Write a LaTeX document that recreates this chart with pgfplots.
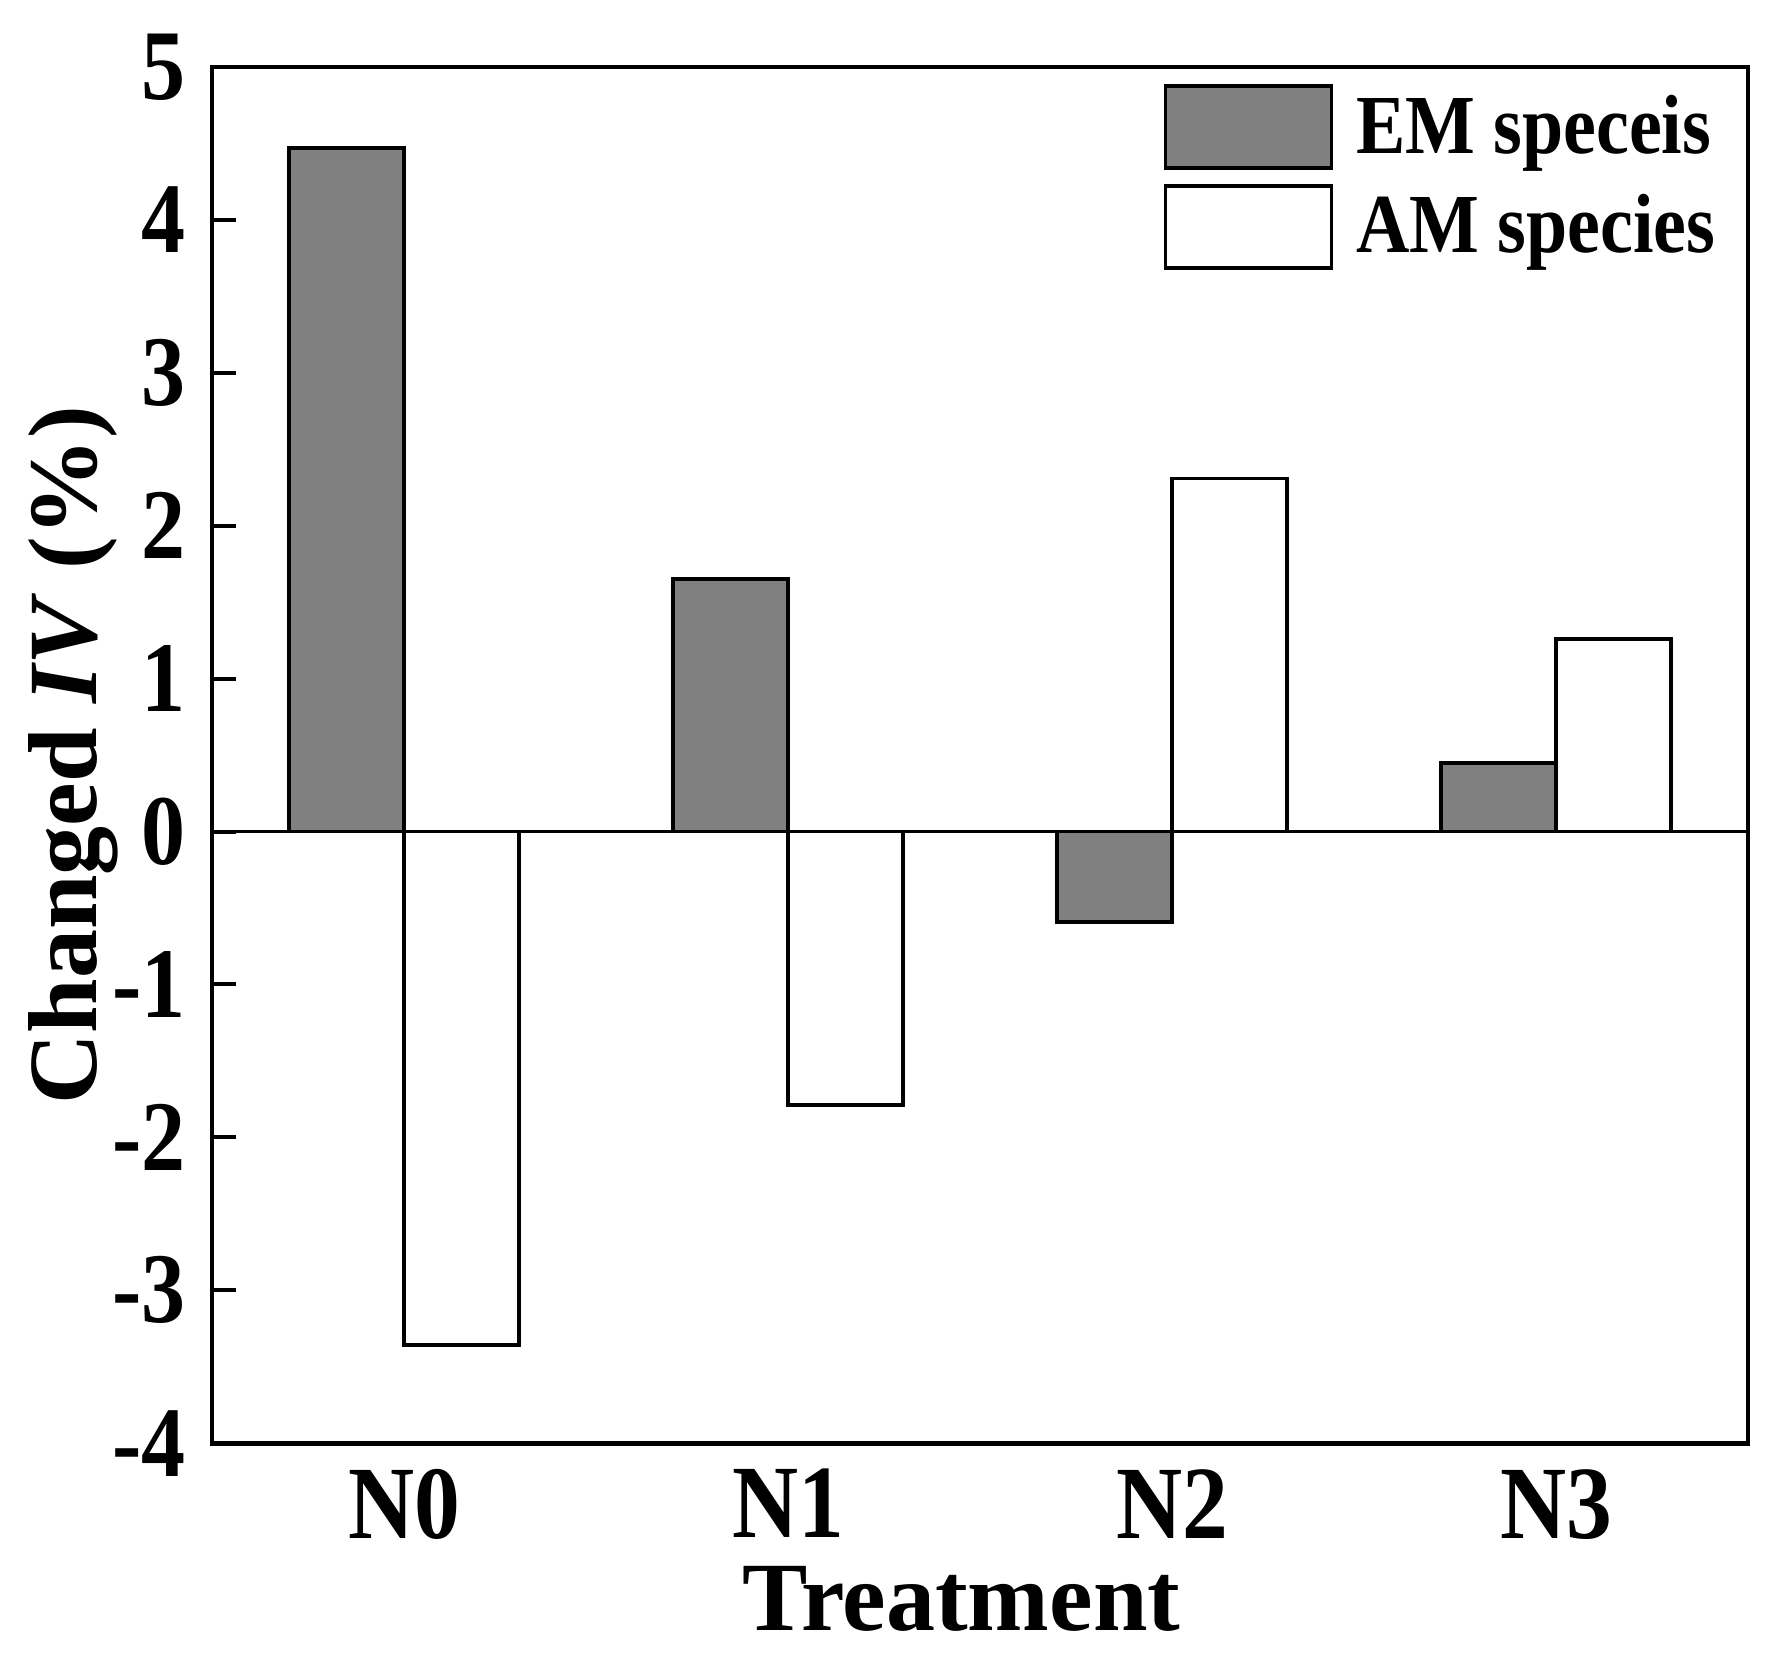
\documentclass[border=0pt]{standalone}
\usepackage{fontspec}
\setmainfont{Liberation Serif}
\newfontfamily\condfont{Liberation Serif}[FakeStretch=0.88]
\usepackage{pgfplots}
\pgfplotsset{compat=1.18}

\pgfplotsset{
  boxlegend/.style={legend image code/.code={%
    \draw[##1, line width=0.9pt] (0pt,-10.25pt) rectangle (41.5pt,10.25pt);}},
}

\begin{document}
\begin{tikzpicture}
\begin{axis}[
    scale only axis,
    width=384pt, height=344pt,
    xmin=-0.5, xmax=3.5,
    ymin=-4, ymax=5,
    ybar=0pt, bar width=0.3,
    xtick={0,1,2,3},
    xticklabels={N0,N1,N2,N3},
    ytick={-4,-3,-2,-1,0,1,2,3,4,5},
    yticklabels={-4,-3,-2,-1,0,1,2,3,4,5},
    xtick style={draw=none},
    ytick pos=left,
    tick align=inside,
    major tick length=6pt,
    ytick style={black, line width=1pt},
    axis line style={line width=1.2pt},
    xticklabel style={font=\condfont\bfseries\fontsize{26}{30}\selectfont, yshift=-3pt},
    yticklabel style={font=\condfont\bfseries\fontsize{25}{29}\selectfont, xshift=-3pt},
    xlabel={Treatment},
    ylabel={Changed \textit{IV} (\%)},
    xlabel style={font=\bfseries\fontsize{24.5}{29}\selectfont,
                  at={(axis description cs:0.488,-0.113)}, anchor=center},
    ylabel style={font=\bfseries\fontsize{24.5}{29}\selectfont,
                  at={(axis description cs:-0.090,0.5)}, anchor=center},
    legend style={at={(axis description cs:0.619,0.988)}, anchor=north west,
                  draw=none, fill=none, inner sep=0pt, row sep=3.5pt,
                  font=\condfont\bfseries\fontsize{21}{25}\selectfont,
                  nodes={inner sep=0pt},
                  /tikz/every odd column/.append style={column sep=5.7pt}},
    legend cell align=left,
]
% EM species
\addplot[fill=black!50, draw=black, line width=0.9pt, boxlegend] coordinates {
    (0,4.47) (1,1.65) (2,-0.59) (3,0.45)
};
% AM species
\addplot[fill=white, draw=black, line width=0.9pt, boxlegend] coordinates {
    (0,-3.36) (1,-1.79) (2,2.31) (3,1.26)
};
\legend{EM speceis, AM species}

\draw[line width=0.7pt] (axis cs:-0.5,0) -- (axis cs:3.5,0);

\coordinate (bbl) at (axis description cs:-0.138,-0.1635);
\coordinate (btr) at (axis description cs:1.0234,1.0487);
\end{axis}
\pgfresetboundingbox
\path[use as bounding box] (bbl) rectangle (btr);
\end{tikzpicture}
\end{document}
